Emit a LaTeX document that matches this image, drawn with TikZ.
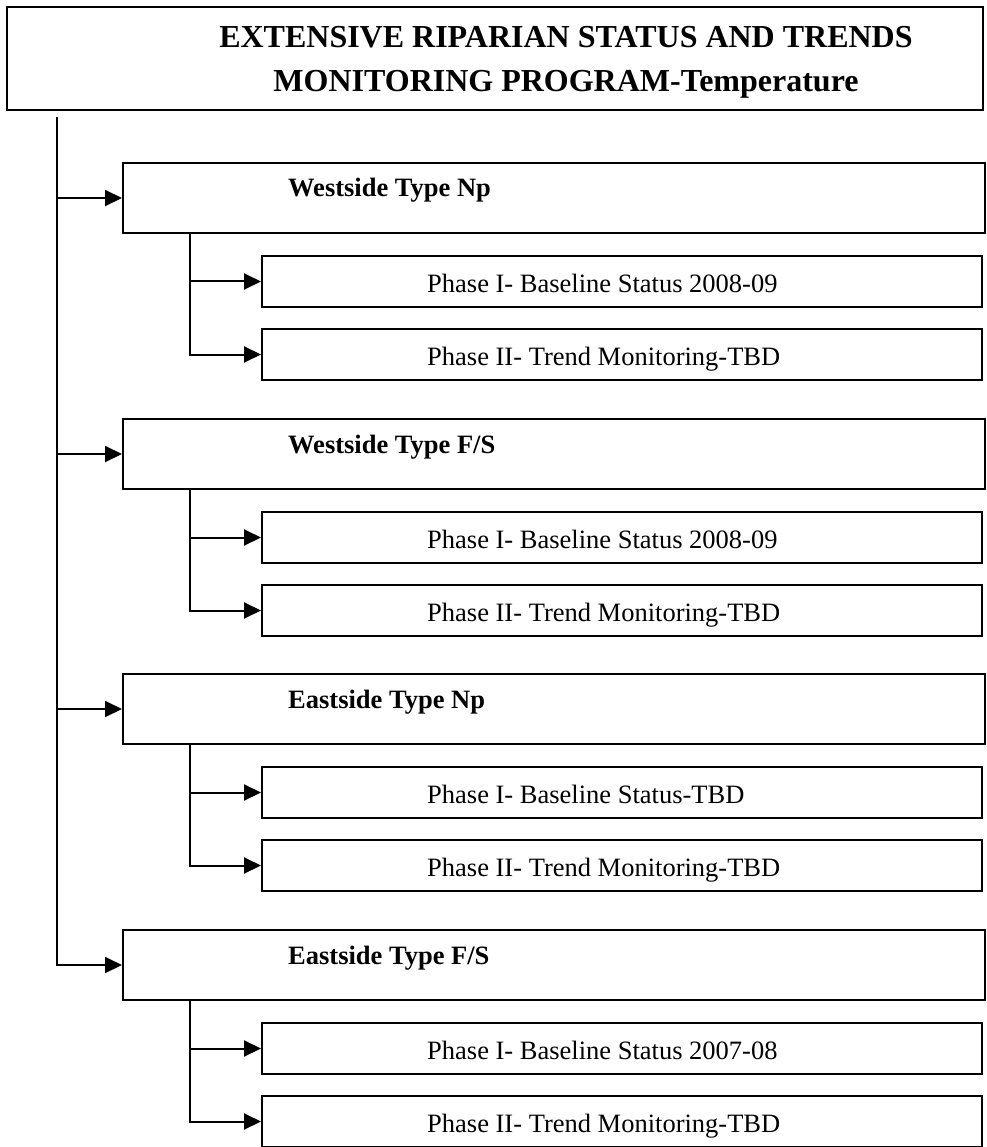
\documentclass[tikz,border=0pt]{standalone}
\usepackage{fontspec}
\setmainfont{Liberation Serif}
\usetikzlibrary{arrows.meta}
\begin{document}
\begin{tikzpicture}[x=1pt,y=-1pt,
  box/.style={draw, line width=2pt, rectangle, inner sep=0pt},
  titlebox/.style={box, minimum width=976pt, minimum height=103pt},
  groupbox/.style={box, minimum width=862pt, minimum height=70pt},
  subbox/.style={box, minimum width=720pt, minimum height=51pt},
  titletext/.style={anchor=base, inner sep=0pt, align=center, font=\fontsize{32}{44}\selectfont\bfseries},
  grouplabel/.style={anchor=base west, inner sep=0pt, font=\fontsize{26.5}{30}\selectfont\bfseries},
  sublabel/.style={anchor=base west, inner sep=0pt, font=\fontsize{26.5}{30}\selectfont},
  conn/.style={line width=2pt},
  arr/.style={conn, -{Triangle[length=17pt,width=16pt]}}
]
\useasboundingbox (0,0) rectangle (986,1147);
\fill[white] (0,0) rectangle (986,1147);

% title
\node[titlebox] (title) at (495,58.5) {};
\node[titletext] (titlet) at (566,92) {EXTENSIVE RIPARIAN STATUS AND TRENDS\\MONITORING PROGRAM-Temperature};
\coordinate (root) at (57,117);

% groups
\node[groupbox] (g1) at (554,198) {};
\node[groupbox] (g2) at (554,454) {};
\node[groupbox] (g3) at (554,709) {};
\node[groupbox] (g4) at (554,965) {};
\node[grouplabel] (g1t) at (288,197) {Westside Type Np};
\node[grouplabel] (g2t) at (288,453) {Westside Type F/S};
\node[grouplabel] (g3t) at (288,708) {Eastside Type Np};
\node[grouplabel] (g4t) at (288,964) {Eastside Type F/S};

% sub boxes
\node[subbox] (g1a) at (622,281.5) {};
\node[subbox] (g1b) at (622,354.5) {};
\node[subbox] (g2a) at (622,537.5) {};
\node[subbox] (g2b) at (622,610.5) {};
\node[subbox] (g3a) at (622,792.5) {};
\node[subbox] (g3b) at (622,865.5) {};
\node[subbox] (g4a) at (622,1048.5) {};
\node[subbox] (g4b) at (622,1121.5) {};

\node[sublabel] (g1at) at (427,292) {Phase I- Baseline Status 2008-09};
\node[sublabel] (g1bt) at (427,365) {Phase II- Trend Monitoring-TBD};
\node[sublabel] (g2at) at (427,548) {Phase I- Baseline Status 2008-09};
\node[sublabel] (g2bt) at (427,621) {Phase II- Trend Monitoring-TBD};
\node[sublabel] (g3at) at (427,803) {Phase I- Baseline Status-TBD};
\node[sublabel] (g3bt) at (427,876) {Phase II- Trend Monitoring-TBD};
\node[sublabel] (g4at) at (427,1059) {Phase I- Baseline Status 2007-08};
\node[sublabel] (g4bt) at (427,1132) {Phase II- Trend Monitoring-TBD};

% trunk
\draw[arr] (root) |- (g4.west);
\foreach \g in {g1,g2,g3}{
  \draw[arr] (root |- \g.west) -- (\g.west);
}
% branches
\foreach \g in {g1,g2,g3,g4}{
  \draw[arr] ([xshift=68pt]\g.south west) |- (\g b.west);
  \draw[arr] ([xshift=68pt]\g.south west |- \g a.west) -- (\g a.west);
}
\end{tikzpicture}
\end{document}
